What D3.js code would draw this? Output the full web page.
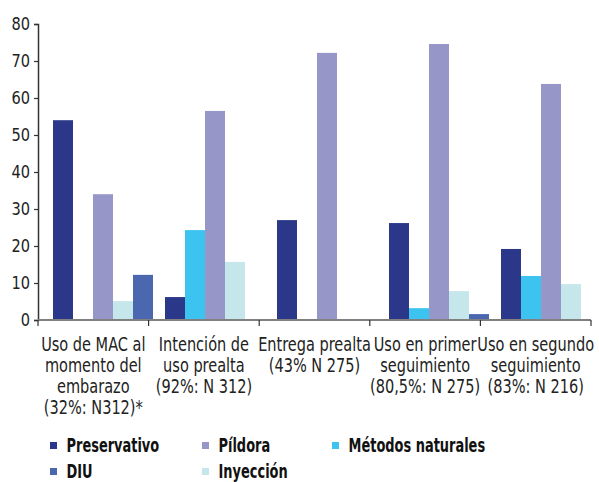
<!DOCTYPE html>
<html>
<head>
<meta charset="utf-8">
<script src="https://cdn.jsdelivr.net/npm/d3@7"></script>
<style>
  html, body { margin: 0; padding: 0; background: #fff; }
  svg text { font-family: "DejaVu Sans Condensed", "Liberation Sans Narrow", sans-serif; }
</style>
</head>
<body>
<svg id="chart" width="599" height="482"></svg>
<script>
// ---- data ----
const categories = [
  ["Uso de MAC al", "momento del", "embarazo", "(32%: N312)*"],
  ["Intención de", "uso prealta", "(92%: N 312)"],
  ["Entrega prealta", "(43% N 275)"],
  ["Uso en primer", "seguimiento", "(80,5%: N 275)"],
  ["Uso en segundo", "seguimiento", "(83%: N 216)"]
];
const categoryKeys = ["c1", "c2", "c3", "c4", "c5"];
const seriesNames = ["Preservativo", "Métodos naturales", "Píldora", "Inyección", "DIU"];
const preservativo = [54, 6.2, 27, 26.2, 19.2];
const metodosNaturales = [0, 24.3, 0, 3.2, 11.9];
const pildora = [34, 56.5, 72.2, 74.6, 63.8];
const inyeccion = [5.1, 15.7, 0, 7.8, 9.7];
const diu = [12.2, 0, 0, 1.6, 0];
const seriesValues = [preservativo, metodosNaturales, pildora, inyeccion, diu];
const colors = ["#2b388a", "#3cc3f0", "#9696c8", "#c5e6ea", "#4b67b0"];
const yTicks = [0, 10, 20, 30, 40, 50, 60, 70, 80];
const legendOrder = ["Preservativo", "Píldora", "Métodos naturales", "DIU", "Inyección"];

// ---- layout ----
const svg = d3.select("#chart");
const y = d3.scaleLinear().domain([0, 80]).range([320, 24]);
const xAxisScale = d3.scaleBand().domain(categoryKeys).range([38, 591]);
const xGroup = d3.scaleBand().domain(categoryKeys).range([47, 607])
  .paddingInner(12 / 112).paddingOuter(6 / 112);
const xInner = d3.scaleBand().domain(seriesNames).range([0, xGroup.bandwidth()]);

// bars
seriesNames.forEach((s, si) => {
  svg.append("g").selectAll("rect")
    .data(seriesValues[si].map((v, i) => ({ k: categoryKeys[i], v })))
    .join("rect")
    .attr("x", d => xGroup(d.k) + xInner(s))
    .attr("width", xInner.bandwidth())
    .attr("y", d => y(d.v))
    .attr("height", d => y(0) - y(d.v))
    .attr("fill", colors[si]);
});

// y axis
const yAxis = svg.append("g").attr("transform", "translate(38,0)")
  .call(d3.axisLeft(y).tickValues(yTicks).tickSize(4).tickPadding(3));
yAxis.select(".domain").attr("stroke", "#333").attr("stroke-width", 1.5);
yAxis.selectAll(".tick line").attr("stroke", "#333").attr("stroke-width", 1.2);
yAxis.selectAll(".tick text").attr("font-size", 18).attr("fill", "#222")
  .attr("transform", "scale(0.9,1)").attr("x", -8 / 0.9);

// x axis
const xAxisG = svg.append("g").attr("transform", "translate(0,320)");
xAxisG.append("line").attr("x1", 38).attr("x2", 591).attr("y1", 0).attr("y2", 0)
  .attr("stroke", "#808080").attr("stroke-width", 2);
const boundaries = categoryKeys.map(k => xAxisScale(k)).concat([xAxisScale.range()[1]]);
xAxisG.selectAll("line.tk").data(boundaries).join("line").attr("class", "tk")
  .attr("x1", d => d).attr("x2", d => d).attr("y1", 0).attr("y2", 6)
  .attr("stroke", "#333").attr("stroke-width", 1.2);

const catG = xAxisG.selectAll("g.cat").data(categoryKeys).join("g")
  .attr("class", "cat")
  .attr("transform", k => `translate(${xAxisScale(k) + xAxisScale.bandwidth() / 2},0) scale(0.85,1)`);
catG.each(function (k, i) {
  const t = d3.select(this).append("text")
    .attr("text-anchor", "middle").attr("font-size", 19).attr("fill", "#222");
  categories[i].forEach((line, li) => {
    t.append("tspan").attr("x", 0).attr("y", 31.5 + li * 21).text(line);
  });
});

// legend
const legendPos = {
  "Preservativo": [50, 442],
  "Píldora": [202, 442],
  "Métodos naturales": [332, 442],
  "DIU": [50, 468],
  "Inyección": [202, 468]
};
const lg = svg.append("g");
legendOrder.forEach(name => {
  const [lx, ly] = legendPos[name];
  const ci = seriesNames.indexOf(name);
  lg.append("rect").attr("x", lx).attr("y", ly).attr("width", 7).attr("height", 7)
    .attr("fill", colors[ci]);
  lg.append("g").attr("transform", `translate(${lx + 16.5},${ly + 9.5}) scale(0.75,1)`)
    .append("text").attr("x", 0).attr("y", 0)
    .attr("font-size", 19.2).attr("font-weight", "bold").attr("fill", "#111")
    .text(name);
});
</script>
</body>
</html>
